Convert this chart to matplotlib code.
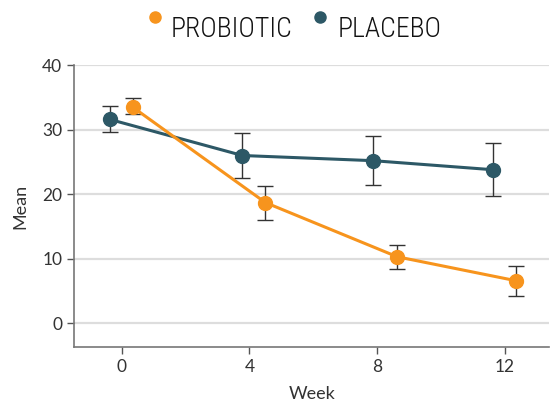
import matplotlib
matplotlib.use("Agg")
import matplotlib.pyplot as plt
from matplotlib.lines import Line2D
import numpy as np

# weeks of follow-up
weeks = [0, 4, 8, 12]
week_ticks = [0, 4, 8, 12]
mean_ticks = [0, 10, 20, 30, 40]

# probiotic arm
probiotic_mean = [33.5, 18.7, 10.3, 6.6]
probiotic_low = [32.4, 16.0, 8.4, 4.2]
probiotic_high = [34.9, 21.3, 12.1, 8.9]
probiotic_dodge = [0.34, 0.5, 0.63, 0.34]

# placebo arm
placebo_mean = [31.6, 26.0, 25.2, 23.8]
placebo_low = [29.6, 22.5, 21.4, 19.7]
placebo_high = [33.6, 29.5, 29.0, 27.9]
placebo_dodge = [-0.38, -0.22, -0.13, -0.38]

series_names = ["PROBIOTIC", "PLACEBO"]

orange = "#F7941D"
teal = "#2D5866"

plt.rcParams['font.family'] = ['Lato', 'DejaVu Sans']

fig = plt.figure(figsize=(5.5, 4.05), dpi=100)
ax = fig.add_axes([0.1345, 0.143, 0.8645, 0.696])


def draw_arm(mean, low, high, dodge, color):
    x = np.array(weeks) + np.array(dodge)
    m = np.array(mean)
    yerr = [m - np.array(low), np.array(high) - m]
    ax.plot(x, m, color=color, lw=2.2, zorder=3)
    ax.errorbar(x, m, yerr=yerr, fmt="none", ecolor="#333333",
                elinewidth=1.0, capsize=6, capthick=1.0, zorder=2)
    ax.plot(x, m, "o", color=color, ms=10, zorder=4)


draw_arm(placebo_mean, placebo_low, placebo_high, placebo_dodge, teal)
draw_arm(probiotic_mean, probiotic_low, probiotic_high, probiotic_dodge, orange)

ax.set_xlim(-1.5, 13.4)
ax.set_ylim(-3.7, 40)
ax.set_xticks(week_ticks)
ax.set_yticks(mean_ticks)
ax.yaxis.grid(True, color="#DDDDDD", lw=1.6)
ax.set_axisbelow(True)

for side in ["top", "right"]:
    ax.spines[side].set_visible(False)
for side in ["left", "bottom"]:
    ax.spines[side].set_color("#777777")
    ax.spines[side].set_linewidth(1.2)

ax.tick_params(axis="both", direction="out", length=5, width=1,
               color="#555555", labelcolor="#333333", labelsize=12.5)
ax.set_xlabel("Week", fontsize=13, color="#333333", labelpad=8)
ax.set_ylabel("Mean", fontsize=13, color="#333333", labelpad=10)

# legend drawn at figure level: small raised dots next to condensed labels
legend_font = ['Roboto Condensed', 'DejaVu Sans']
for name, color, xdot, xtxt in [(series_names[0], orange, 0.282, 0.311),
                                (series_names[1], teal, 0.582, 0.613)]:
    fig.add_artist(Line2D([xdot], [0.958], ls="none", marker="o", ms=8,
                          color=color, transform=fig.transFigure))
    fig.text(xtxt, 0.9086, name, family=legend_font, fontsize=20,
             weight="light", color="#111111", va="baseline", ha="left")

fig.savefig("out.png", dpi=100)
